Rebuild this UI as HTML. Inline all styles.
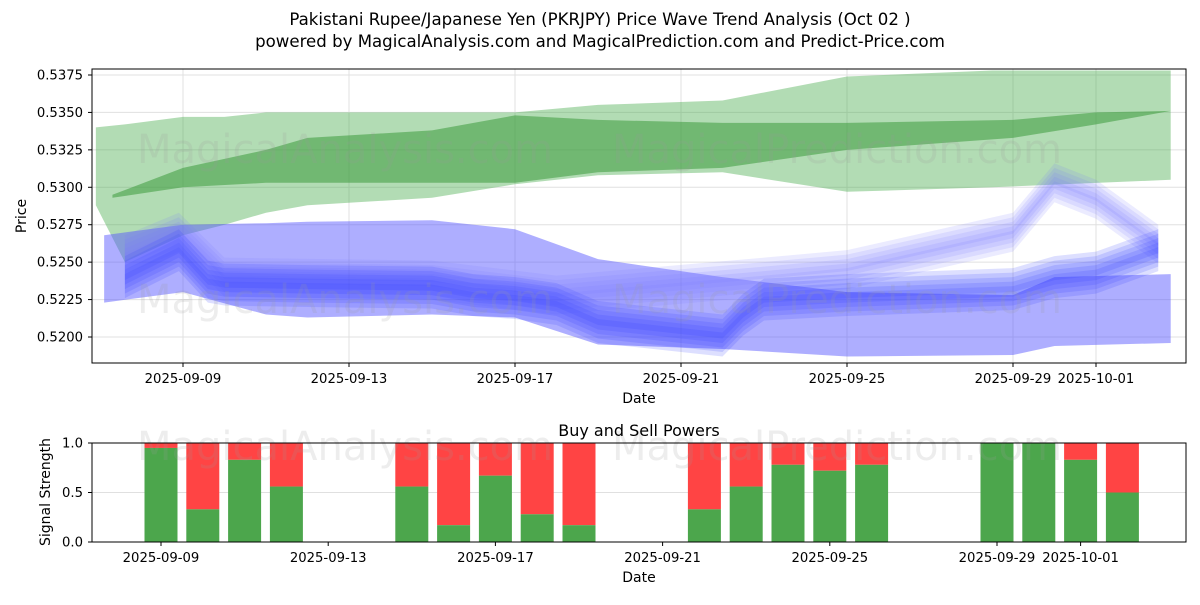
<!DOCTYPE html>
<html><head><meta charset="utf-8"><style>
body{margin:0;background:#fff;font-family:"Liberation Sans","DejaVu Sans",sans-serif}
svg text{font-family:"DejaVu Sans","Liberation Sans",sans-serif}
</style></head><body>
<svg id="c" width="1200" height="600" xmlns="http://www.w3.org/2000/svg">
<rect width="1200" height="600" fill="#fff"/>
<text x="600" y="25" font-size="16.6" text-anchor="middle">Pakistani Rupee/Japanese Yen (PKRJPY) Price Wave Trend Analysis (Oct 02 )</text>
<text x="600" y="47" font-size="16.6" text-anchor="middle">powered by MagicalAnalysis.com and MagicalPrediction.com and Predict-Price.com</text>
<g id="topg"></g><g id="botg"></g>
</svg>
<script>
// ---- data ----
const yTicksTop=[0.5200,0.5225,0.5250,0.5275,0.5300,0.5325,0.5350,0.5375];
const xTickDays=[0,4,8,12,16,20,22];
const xTickLabels=["2025-09-09","2025-09-13","2025-09-17","2025-09-21","2025-09-25","2025-09-29","2025-10-01"];
const lgDays=[-2.1,-1.4,0,1,2,3,6,8,10,13,16,19.5,23.8];
const lgUpper=[0.5340,0.5342,0.5347,0.5347,0.5350,0.5350,0.5350,0.5350,0.5355,0.5358,0.5374,0.5378,0.5378];
const lgLower=[0.5288,0.5250,0.5268,0.5275,0.5283,0.5288,0.5293,0.5302,0.5308,0.5310,0.5297,0.5300,0.5305];
const dgDays=[-1.7,0,2,3,6,8,10,13,16,20,22,23.8];
const dgUpper=[0.5295,0.5313,0.5325,0.5333,0.5338,0.5348,0.5345,0.5343,0.5343,0.5345,0.5350,0.5351];
const dgLower=[0.5293,0.5300,0.5303,0.5303,0.5303,0.5303,0.5310,0.5313,0.5325,0.5333,0.5342,0.5351];
const lbDays=[-1.9,0,2,3,6,8,10,13,16,20,21,23.8];
const lbUpper=[0.5268,0.5275,0.5276,0.5277,0.5278,0.5272,0.5252,0.5240,0.5230,0.5228,0.5240,0.5242];
const lbLower=[0.5223,0.5230,0.5215,0.5213,0.5215,0.5213,0.5195,0.5192,0.5187,0.5188,0.5194,0.5196];
const waveDays=[-1.4,-0.1,0.6,1,3,6,7,8,9,10,13,13.5,14,16,20,21,22,23.5];
const waveVals=[0.5240,0.5258,0.5237,0.5235,0.5234,0.5233,0.5228,0.5226,0.5222,0.5210,0.5201,0.5215,0.5225,0.5228,0.5232,0.5240,0.5243,0.5258];
const wave2Days=[-1.4,-0.1,1,6,9,14,16,20,21,22,23.5];
const wave2Vals=[0.5255,0.5270,0.5240,0.5238,0.5228,0.5240,0.5245,0.5270,0.5303,0.5292,0.5262];
const barDays=[0,1,2,3,6,7,8,9,10,13,14,15,16,17,20,21,22,23];
const buyVals=[0.95,0.33,0.83,0.56,0.56,0.17,0.67,0.28,0.17,0.33,0.56,0.78,0.72,0.78,1.0,1.0,0.83,0.5];
const yTicksBot=[0.0,0.5,1.0];
// ---- axes ----
const ns="http://www.w3.org/2000/svg";
const T={l:92,r:1186,t:69,b:363};
const xT=d=>183+d*41.5;
const yT=v=>337-(v-0.52)/0.0025*37.43;
const B={l:92,r:1186,t:443,b:542};
const xB=d=>161+d*41.8;
const yB=v=>542-v*99;
const FS=13.2;
function el(p,tag,a){const e=document.createElementNS(ns,tag);for(const k in a)e.setAttribute(k,a[k]);p.appendChild(e);return e;}
const topG=document.getElementById('topg'),botG=document.getElementById('botg');
yTicksTop.forEach(v=>{const g=el(topG,'line',{x1:T.l,x2:T.r,y1:yT(v),y2:yT(v),stroke:'#e0e0e0'});

});
xTickDays.forEach(d=>{const g=el(topG,'line',{x1:xT(d),x2:xT(d),y1:T.t,y2:T.b,stroke:'#e0e0e0'});

});
function band(days,up,lo,fill,op,name,dv){
  let pts=[];days.forEach((d,i)=>pts.push(xT(d)+','+yT(up[i]+(dv||0))));
  for(let i=days.length-1;i>=0;i--)pts.push(xT(days[i])+','+yT(lo[i]+(dv||0)));
  const p=el(topG,'polygon',{points:pts.join(' '),fill:fill,'fill-opacity':op});
  
  
}
band(lgDays,lgUpper,lgLower,'#4caf50',0.43,'green-outer-band');
band(dgDays,dgUpper,dgLower,'#3d9a3d',0.55,'green-inner-band');
band(lbDays,lbUpper,lbLower,'#5555ff',0.48,'blue-outer-band');
const offs=[-0.0006,-0.0003,0,0.0003,0.0006];
offs.forEach(o=>band(wave2Days,wave2Vals.map(v=>v+0.0007),wave2Vals.map(v=>v-0.0007),'#7777ff',0.15,'wave-upper-band',o));
offs.forEach(o=>band(waveDays,waveVals.map(v=>v+0.0008),waveVals.map(v=>v-0.0008),'#3344ff',0.17,'wave-band',o));
[[345,163,'MagicalAnalysis.com'],[837,163,'MagicalPrediction.com'],[345,313,'MagicalAnalysis.com'],[837,313,'MagicalPrediction.com']].forEach(w=>{
 const t=el(topG,'text',{x:w[0],y:w[1],'font-size':40,'text-anchor':'middle',fill:'#999','fill-opacity':0.18});t.textContent=w[2];
 
 });
el(topG,'rect',{x:T.l,y:T.t,width:T.r-T.l,height:T.b-T.t,fill:'none',stroke:'#000'});
yTicksTop.forEach(v=>{el(topG,'line',{x1:T.l-4,x2:T.l,y1:yT(v),y2:yT(v),stroke:'#000'});
 const t=el(topG,'text',{x:T.l-9,y:yT(v)+4.5,'font-size':FS,'text-anchor':'end'});t.textContent=v.toFixed(4);
 
 });
xTickDays.forEach((d,i)=>{el(topG,'line',{x1:xT(d),x2:xT(d),y1:T.b,y2:T.b+4,stroke:'#000'});
 const t=el(topG,'text',{x:xT(d),y:T.b+20,'font-size':FS,'text-anchor':'middle'});t.textContent=xTickLabels[i];
 
 });
let t1=el(topG,'text',{x:639,y:403,'font-size':14,'text-anchor':'middle'});t1.textContent='Date';


let t2=el(topG,'text',{x:26,y:216,'font-size':14,'text-anchor':'middle',transform:'rotate(-90 26 216)'});t2.textContent='Price';


yTicksBot.forEach(v=>{const g=el(botG,'line',{x1:B.l,x2:B.r,y1:yB(v),y2:yB(v),stroke:'#e0e0e0'});

});
barDays.forEach((d,i)=>{const x=xB(d)-16.5;
 const r=el(botG,'rect',{x:x,y:yB(1),width:33,height:yB(buyVals[i])-yB(1),fill:'#ff4444'});
 
 
 const g=el(botG,'rect',{x:x,y:yB(buyVals[i]),width:33,height:yB(0)-yB(buyVals[i]),fill:'#4ca64c'});
 
 });
[[345,460,'MagicalAnalysis.com'],[837,460,'MagicalPrediction.com']].forEach(w=>{
 const t=el(botG,'text',{x:w[0],y:w[1],'font-size':40,'text-anchor':'middle',fill:'#999','fill-opacity':0.18});t.textContent=w[2];
 
 });
el(botG,'rect',{x:B.l,y:B.t,width:B.r-B.l,height:B.b-B.t,fill:'none',stroke:'#000'});
yTicksBot.forEach(v=>{el(botG,'line',{x1:B.l-4,x2:B.l,y1:yB(v),y2:yB(v),stroke:'#000'});
 const t=el(botG,'text',{x:B.l-9,y:yB(v)+4.5,'font-size':FS,'text-anchor':'end'});t.textContent=v.toFixed(1);
 
 });
xTickDays.forEach((d,i)=>{el(botG,'line',{x1:xB(d),x2:xB(d),y1:B.b,y2:B.b+4,stroke:'#000'});
 const t=el(botG,'text',{x:xB(d),y:B.b+20,'font-size':FS,'text-anchor':'middle'});t.textContent=xTickLabels[i];
 
 });
let t3=el(botG,'text',{x:639,y:436,'font-size':16,'text-anchor':'middle'});t3.textContent='Buy and Sell Powers';


let t4=el(botG,'text',{x:639,y:582,'font-size':14,'text-anchor':'middle'});t4.textContent='Date';


let t5=el(botG,'text',{x:50,y:492,'font-size':14,'text-anchor':'middle',transform:'rotate(-90 50 492)'});t5.textContent='Signal Strength';


</script>
</body></html>
